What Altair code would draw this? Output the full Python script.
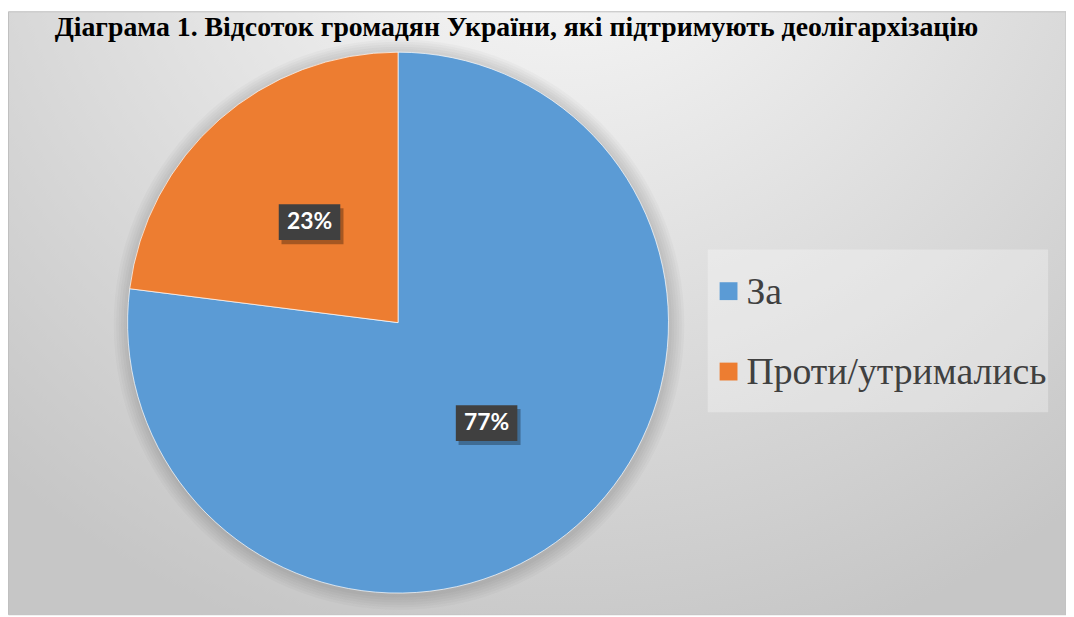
import math
import altair as alt
import pandas as pd

# ---- data ----
categories = ["За", "Проти/утримались"]
values = [77, 23]
labels = ["77%", "23%"]
colors = ["#5B9BD5", "#ED7D31"]
title_text = "Діаграма 1. Відсоток громадян України, які підтримують деолігархізацію"

df = pd.DataFrame({"category": categories, "value": values,
                   "label": labels, "order": list(range(len(categories)))})
one = pd.DataFrame({"k": [0]})

SERIF = "Liberation Serif"
SANS = "Lato"

W, H = 1066, 609
CX, CY, R = 393, 314.7, 272.5

# ---- background with radial gradient ----
bg = alt.Chart(one).mark_rect(
    fill=alt.RadialGradient(
        gradient="radial",
        stops=[alt.GradientStop(color="#ffffff", offset=0),
               alt.GradientStop(color="#f2f2f2", offset=0.2),
               alt.GradientStop(color="#c6c6c6", offset=1)],
        x1=0.52, y1=0.05, r1=0, x2=0.52, y2=0.05, r2=0.8),
    stroke="#c0c0c0", strokeWidth=1,
).encode(x=alt.value(0.5), x2=alt.value(W), y=alt.value(1.5), y2=alt.value(H))

# ---- soft shadow around the pie ----
shadows = [
    alt.Chart(one).mark_arc(theta=0, theta2=2 * math.pi, outerRadius=R + 2.5 * k,
                            fill="#000000", opacity=0.025)
    .encode(x=alt.value(CX + 1), y=alt.value(CY + 2))
    for k in range(1, 7)
]

# ---- pie ----
pie = alt.Chart(df).mark_arc(outerRadius=R, stroke="#ffffff", strokeWidth=1,
                             strokeOpacity=0.7).encode(
    theta=alt.Theta("value:Q", stack=True),
    color=alt.Color("category:N", scale=alt.Scale(domain=categories, range=colors), legend=None),
    order=alt.Order("order:Q", sort="ascending"),
    x=alt.value(CX), y=alt.value(CY),
)

# ---- data labels (dark boxes) ----
lab = alt.Chart(df).transform_joinaggregate(
    total="sum(value)"
).transform_window(
    cum="sum(value)", sort=[alt.SortField("order")]
).transform_calculate(
    mid="(datum.cum - datum.value/2) / datum.total * 2 * PI",
    lx="0.495 * sin(datum.mid)",
    ly="0.495 * cos(datum.mid)",
)
xs = alt.X("lx:Q", scale=alt.Scale(domain=[-1, 1], range=[CX - R, CX + R]), axis=None)
ys = alt.Y("ly:Q", scale=alt.Scale(domain=[-1, 1], range=[CY + R, CY - R]), axis=None)
box_path = "M-1,-0.58H1V0.58H-1Z"

box_shadow = lab.mark_point(shape=box_path, size=3900, filled=True, fill="#000000",
                            opacity=0.3, strokeWidth=0, xOffset=3, yOffset=4).encode(x=xs, y=ys)
box = lab.mark_point(shape=box_path, size=3844, filled=True, fill="#404040",
                     opacity=1, strokeWidth=0).encode(x=xs, y=ys)
box_text = lab.mark_text(font=SANS, fontWeight="bold", fontSize=23, color="#ffffff",
                         align="center", baseline="middle").encode(x=xs, y=ys, text="label:N")

# ---- legend ----
leg_box = alt.Chart(one).mark_rect(fill="#ffffff", opacity=0.3).encode(
    x=alt.value(705), x2=alt.value(1048), y=alt.value(241), y2=alt.value(405))
ly_enc = alt.Y("category:N", scale=alt.Scale(domain=categories, range=[283, 364], padding=0), axis=None)
leg_sym = alt.Chart(df).mark_point(shape="square", size=324, filled=True, opacity=1,
                                   strokeWidth=0).encode(
    x=alt.value(726), y=ly_enc,
    color=alt.Color("category:N", scale=alt.Scale(domain=categories, range=colors), legend=None))
leg_txt = alt.Chart(df).mark_text(font=SERIF, fontSize=38, color="#404040",
                                  align="left", baseline="middle", dy=2).encode(
    x=alt.value(744), y=ly_enc, text="category:N")

# ---- title ----
title = alt.Chart(one).mark_text(text=title_text, font=SERIF, fontWeight="bold",
                                 fontSize=28, color="#000000", align="left",
                                 baseline="top").encode(x=alt.value(47), y=alt.value(4))

chart = alt.layer(
    bg, *shadows, pie, box_shadow, box, box_text, leg_box, leg_sym, leg_txt, title
).resolve_scale(
    x="independent", y="independent", color="independent"
).properties(
    width=W, height=H, padding=0, autosize=alt.AutoSizeParams(type="none")
).configure_view(strokeWidth=0)

chart.save("out.html", embed_options={"renderer": "svg", "actions": False})
